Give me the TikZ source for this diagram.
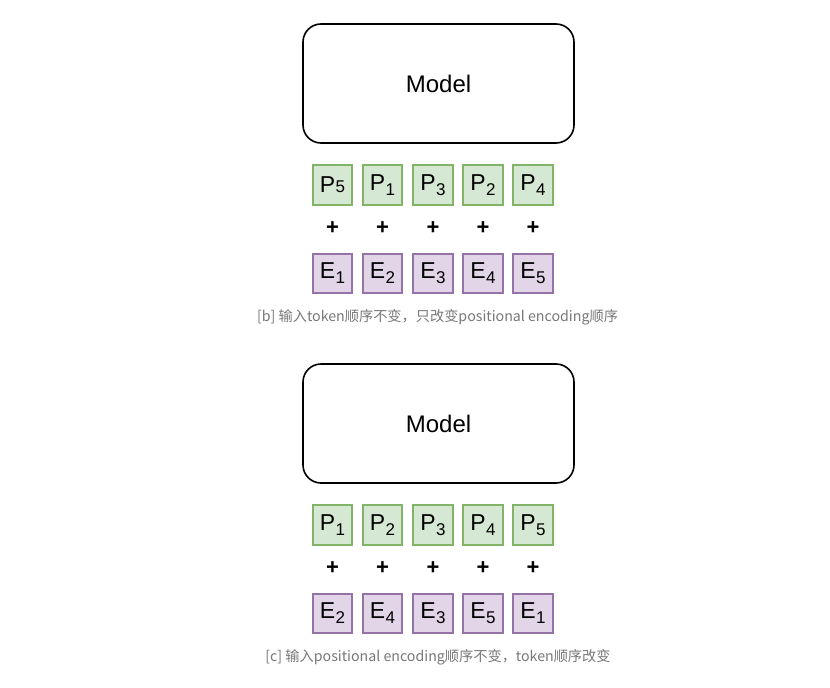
\documentclass[tikz,border=0pt]{standalone}
\usepackage{fontspec}
\setmainfont{Liberation Sans}
\newfontfamily\cjk{Noto Sans CJK SC}
\definecolor{pfill}{HTML}{D5E8D4}
\definecolor{pdraw}{HTML}{82B366}
\definecolor{efill}{HTML}{E1D5E7}
\definecolor{edraw}{HTML}{9673A6}
\definecolor{captgray}{HTML}{787878}
\newcommand{\lowsub}[1]{\kern0.5pt{\fontsize{17}{17}\selectfont\raisebox{-5pt}{#1}}}
\newcommand{\flatsub}[1]{\kern0.5pt{\fontsize{17}{17}\selectfont #1}}
\tikzset{
  modelbox/.style={draw=black, line width=1.6pt, rounded corners=18pt, fill=white,
    minimum width=271pt, minimum height=119pt, inner sep=0pt, font=\fontsize{24}{24}\selectfont},
  pbox/.style={draw=pdraw, fill=pfill, line width=1.6pt, minimum width=39.5pt, minimum height=39.5pt,
    inner sep=0pt, font=\fontsize{23}{23}\selectfont},
  ebox/.style={draw=edraw, fill=efill, line width=1.6pt, minimum width=39.5pt, minimum height=39.5pt,
    inner sep=0pt, font=\fontsize{23}{23}\selectfont},
  plussign/.style={inner sep=0pt, font=\bfseries\fontsize{22}{22}\selectfont},
  caption/.style={inner sep=0pt, text=captgray, font=\cjk\fontsize{14.2}{14.2}\selectfont}
}
\begin{document}
\begin{tikzpicture}[x=1pt,y=-1pt]
\useasboundingbox[fill=white] (0,0) rectangle (830,688);
% panel b
\node[modelbox] (mb) at (438.5,83.5) {Model};
\node[pbox] (pb1) at (332.5,185) {P\flatsub{5}};
\node[pbox] (pb2) at (382.5,185) {P\lowsub{1}};
\node[pbox] (pb3) at (433,185) {P\lowsub{3}};
\node[pbox] (pb4) at (483,185) {P\lowsub{2}};
\node[pbox] (pb5) at (533,185) {P\lowsub{4}};
\foreach \i/\x in {1/332.5,2/382.5,3/433,4/483,5/533}{
  \node[plussign] (sb\i) at (\x,228.5) {+};
}
\node[ebox] (eb1) at (332.5,273.5) {E\lowsub{1}};
\node[ebox] (eb2) at (382.5,273.5) {E\lowsub{2}};
\node[ebox] (eb3) at (433,273.5) {E\lowsub{3}};
\node[ebox] (eb4) at (483,273.5) {E\lowsub{4}};
\node[ebox] (eb5) at (533,273.5) {E\lowsub{5}};
\node[caption] (capb) at (437.5,317) {[b] 输入token顺序不变，只改变positional encoding顺序};
% panel c
\node[modelbox] (mc) at (438.5,423.5) {Model};
\node[pbox] (pc1) at (332.5,525) {P\lowsub{1}};
\node[pbox] (pc2) at (382.5,525) {P\lowsub{2}};
\node[pbox] (pc3) at (433,525) {P\lowsub{3}};
\node[pbox] (pc4) at (483,525) {P\lowsub{4}};
\node[pbox] (pc5) at (533,525) {P\lowsub{5}};
\foreach \i/\x in {1/332.5,2/382.5,3/433,4/483,5/533}{
  \node[plussign] (sc\i) at (\x,568.5) {+};
}
\node[ebox] (ec1) at (332.5,613.5) {E\lowsub{2}};
\node[ebox] (ec2) at (382.5,613.5) {E\lowsub{4}};
\node[ebox] (ec3) at (433,613.5) {E\lowsub{3}};
\node[ebox] (ec4) at (483,613.5) {E\lowsub{5}};
\node[ebox] (ec5) at (533,613.5) {E\lowsub{1}};
\node[caption] (capc) at (438,657) {[c] 输入positional encoding顺序不变，token顺序改变};
\end{tikzpicture}
\end{document}
